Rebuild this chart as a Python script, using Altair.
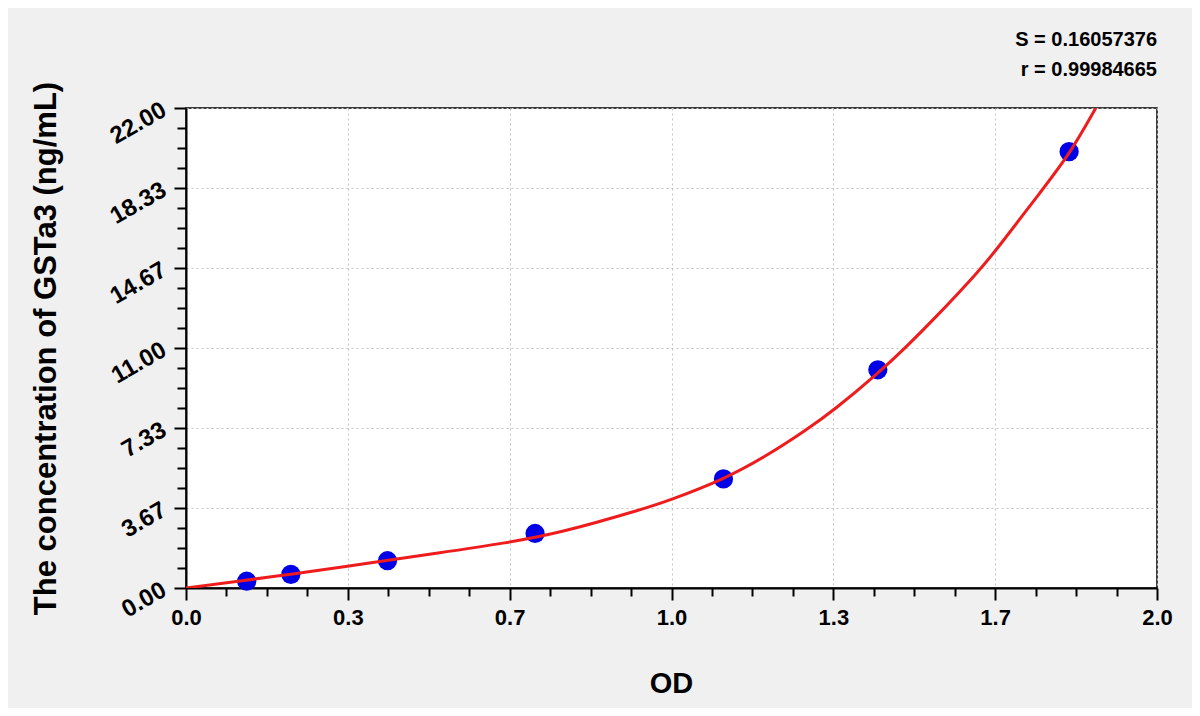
import altair as alt
import pandas as pd

# Standard points (OD vs concentration)
od = [0.125, 0.216, 0.415, 0.719, 1.107, 1.425, 1.819]
conc = [0.312, 0.625, 1.25, 2.5, 5.0, 10.0, 20.0]

# Fitted curve
curve_od = [0.0, 0.125, 0.216, 0.330, 0.415, 0.509, 0.664, 0.770, 0.945,
            0.997, 1.107, 1.196, 1.278, 1.333, 1.429, 1.481, 1.539, 1.635,
            1.666, 1.766, 1.821, 1.874]
curve_conc = [0.0, 0.36, 0.63, 0.99, 1.27, 1.57, 2.08, 2.52, 3.64,
              4.03, 4.97, 6.05, 7.25, 8.12, 9.91, 11.0, 12.28, 14.57,
              15.41, 18.32, 19.92, 22.0]

x_major = [0.0, 0.33333, 0.66667, 1.0, 1.33333, 1.66667, 2.0]
y_major = [0.0, 3.66667, 7.33333, 11.0, 14.66667, 18.33333, 22.0]
x_minor = [k * 2.0 / 24 for k in range(25) if k % 4 != 0]
y_minor = [k * 22.0 / 24 for k in range(25) if k % 4 != 0]

stats_s = "S = 0.16057376"
stats_r = "r = 0.99984665"

pts = pd.DataFrame({"od": od, "conc": conc})
curve = pd.DataFrame({"od": curve_od, "conc": curve_conc})

FONT = "Liberation Sans"
xscale = alt.Scale(domain=[0, 2], nice=False, zero=False)
yscale = alt.Scale(domain=[0, 22], nice=False, zero=False)

x_axis = alt.Axis(
    values=x_major, format=".1f", tickSize=12, labelPadding=7,
    labelFontSize=22, labelFlush=False, grid=True, gridDash=[2, 3],
    gridColor="#c4c4c4",
    title="OD", titleFontSize=29, titleX=485, titleY=95,
    titleBaseline="middle", titleAlign="center",
)
y_axis = alt.Axis(
    values=y_major, format=".2f", tickSize=12, labelPadding=10,
    labelFontSize=24, labelFlush=False, labelAngle=-30, labelAlign="right",
    labelBaseline="middle",
    grid=True, gridDash=[2, 3], gridColor="#c4c4c4",
    title="The concentration of GSTa3 (ng/mL)", titleFontSize=31,
    titleX=-140, titleY=240, titleAngle=-90, titleAlign="center",
    titleBaseline="middle",
)

points = alt.Chart(pts).mark_circle(size=370, color="#0000e6", opacity=1).encode(
    x=alt.X("od:Q", scale=xscale, axis=x_axis),
    y=alt.Y("conc:Q", scale=yscale, axis=y_axis),
)

minor = alt.Chart(pts).mark_circle(opacity=0).encode(
    x=alt.X("od:Q", scale=xscale, axis=alt.Axis(
        values=x_minor, orient="bottom", labels=False, tickSize=8, grid=False,
        title=None, domain=False)),
    y=alt.Y("conc:Q", scale=yscale, axis=alt.Axis(
        values=y_minor, orient="left", labels=False, tickSize=9, grid=False,
        title=None, domain=False)),
)

line = alt.Chart(curve).mark_line(
    color="#ee1c1c", strokeWidth=3, interpolate="basis", clip=True
).encode(
    x=alt.X("od:Q", scale=xscale, axis=None),
    y=alt.Y("conc:Q", scale=yscale, axis=None),
)

txt_df = pd.DataFrame({"s": [stats_s], "r": [stats_r]})
t1 = alt.Chart(txt_df).mark_text(
    align="right", baseline="middle", font=FONT, fontSize=20,
    fontWeight="bold", color="black"
).encode(x=alt.value(971), y=alt.value(-68), text="s:N")
t2 = alt.Chart(txt_df).mark_text(
    align="right", baseline="middle", font=FONT, fontSize=20,
    fontWeight="bold", color="black"
).encode(x=alt.value(971), y=alt.value(-38), text="r:N")

chart = alt.layer(points, minor, line, t1, t2).resolve_axis(
    x="independent", y="independent"
).properties(
    width=971, height=480,
    autosize=alt.AutoSizeParams(type="none"),
    padding={"left": 178, "top": 100, "right": 35, "bottom": 120},
    background="#f0f0f0",
).configure_view(
    fill="white", stroke="black", strokeWidth=1.5
).configure_axis(
    domainColor="black", domainWidth=2, tickColor="black", tickWidth=2,
    labelColor="black", labelFont=FONT, labelFontWeight="bold",
    titleColor="black", titleFont=FONT, titleFontWeight="bold",
)

chart.save("out.html", embed_options={"renderer": "svg", "actions": False})
